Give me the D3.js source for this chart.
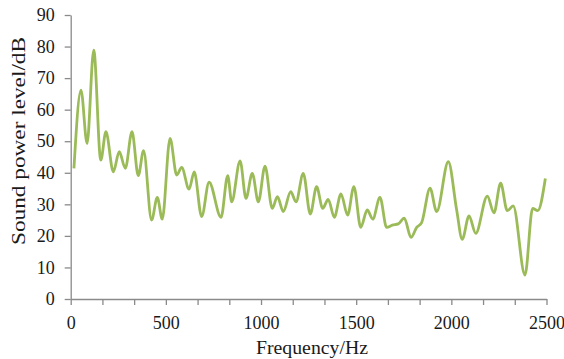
<!DOCTYPE html>
<html>
<head>
<meta charset="utf-8">
<script src="https://cdn.jsdelivr.net/npm/d3@7"></script>
<style>
  body { margin: 0; background: #fff; }
  svg { display: block; }
</style>
</head>
<body>
<div id="chart"></div>
<script>
// frequency (Hz) of each reading, and sound power level (dB)
const freq = [17, 54, 86, 121, 158, 185, 224, 255, 287, 322, 355, 383, 425, 455, 481, 522, 557, 583, 622, 649,
  688, 727, 790, 825, 846, 890, 921, 954, 986, 1021, 1059, 1086, 1117, 1156, 1184, 1222, 1259, 1292, 1324, 1353,
  1385, 1420, 1455, 1488, 1524, 1558, 1587, 1625, 1660, 1690, 1721, 1753, 1788, 1818, 1844, 1888, 1923, 1984,
  2028, 2057, 2093, 2128, 2189, 2224, 2259, 2294, 2325, 2387, 2427, 2454, 2494];
const level = [41.4, 66.2, 49.3, 78.9, 44, 53, 40.3, 46.7, 41.4, 53, 39.1, 47, 25, 32.2, 25.3, 50.9, 39.3, 41.7, 34.8, 40.3,
  26.1, 37, 25.9, 39.1, 30.8, 43.8, 31.9, 39.8, 30.8, 42.1, 28.7, 32.4, 27.7, 34, 30.8, 39.8, 26.9, 35.6, 28.7, 31.6,
  25.9, 33.3, 26.6, 35.6, 22.7, 28.2, 25.3, 32.2, 22.7, 23.4, 23.8, 25.6, 19.5, 22.7, 24.2, 35.1, 27.7, 43.5,
  28.2, 18.9, 26.3, 20.8, 32.6, 27.3, 36.7, 28, 29.5, 7.6, 28.7, 28, 38.2];

const yTicks = [0, 10, 20, 30, 40, 50, 60, 70, 80, 90];
const xTickLabels = ['0', '500', '1000', '1500', '2000', '2500'];
const xMinorCount = 15; // tick marks along the x axis

const W = 564, H = 359;
const margin = { top: 15, right: 17.5, bottom: 60, left: 70.7 };
const width = W - margin.left - margin.right;
const height = H - margin.top - margin.bottom;

const svg = d3.select('#chart').append('svg')
  .attr('width', W)
  .attr('height', H);

const g = svg.append('g')
  .attr('transform', `translate(${margin.left},${margin.top})`);

const x = d3.scaleLinear().domain([0, 2500]).range([0, width]);
const y = d3.scaleLinear().domain([0, 90]).range([height, 0]);

const font = '"Liberation Serif", "Times New Roman", serif';
const axisColor = '#8a8a8a';
const textColor = '#1a1a1a';

// --- Axes ---
const xTickVals = d3.range(xMinorCount + 1).map(i => i * 2500 / xMinorCount);
const xAxis = g.append('g')
  .attr('transform', `translate(0,${height})`)
  .call(d3.axisBottom(x)
    .tickValues(xTickVals)
    .tickSize(6)
    .tickSizeOuter(0)
    .tickPadding(11)
    .tickFormat((d, i) => i % 3 === 0 ? xTickLabels[i / 3] : ''));

const yAxis = g.append('g')
  .call(d3.axisLeft(y)
    .tickValues(yTicks)
    .tickSize(6)
    .tickSizeOuter(0)
    .tickPadding(10)
    .tickFormat(d3.format('d')));

[xAxis, yAxis].forEach(a => {
  a.selectAll('path, line').attr('stroke', axisColor).attr('stroke-width', 1.3);
  a.selectAll('text')
    .attr('fill', textColor)
    .style('font-family', font)
    .style('font-size', '18px');
});

// --- Line ---
const pts = freq.map((f, i) => ({ f, v: level[i] }));
const line = d3.line()
  .x(d => x(d.f))
  .y(d => y(d.v))
  .curve(d3.curveMonotoneX);

g.append('path')
  .datum(pts)
  .attr('fill', 'none')
  .attr('stroke', '#9bbb59')
  .attr('stroke-width', 2.8)
  .attr('stroke-linejoin', 'round')
  .attr('d', line);

// --- Titles ---
svg.append('text')
  .attr('x', 312)
  .attr('y', 354)
  .attr('text-anchor', 'middle')
  .attr('fill', textColor)
  .attr('textLength', 112)
  .attr('lengthAdjust', 'spacingAndGlyphs')
  .style('font-family', font)
  .style('font-size', '19px')
  .text('Frequency/Hz');

svg.append('text')
  .attr('transform', 'translate(25,141) rotate(-90)')
  .attr('text-anchor', 'middle')
  .attr('fill', textColor)
  .attr('textLength', 208)
  .attr('lengthAdjust', 'spacingAndGlyphs')
  .style('font-family', font)
  .style('font-size', '19px')
  .text('Sound power level/dB');
</script>
</body>
</html>
